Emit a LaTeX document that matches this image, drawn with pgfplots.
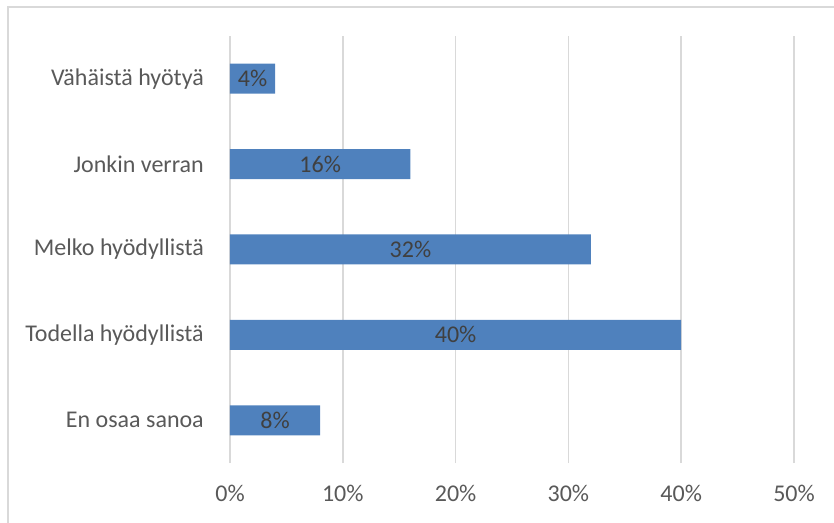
\documentclass[border=0pt]{standalone}
\usepackage{pgfplots}
\pgfplotsset{compat=1.18}
\usepackage{pgfplotstable}
\usepackage{fontspec}
\setmainfont{Carlito}
\definecolor{barblue}{RGB}{79,129,189}
\definecolor{gridgray}{RGB}{217,217,217}
\definecolor{labelgray}{RGB}{89,89,89}
\definecolor{valgray}{RGB}{64,64,64}
\pgfplotstableread{
y x
0 8
1 40
2 32
3 16
4 4
}\datatable
\begin{document}
\fontsize{24bp}{28bp}\selectfont
\begin{tikzpicture}
\path[use as bounding box] (-230bp,-60bp) rectangle (604bp,463bp);
\draw[gridgray, line width=1.2bp] (-222bp,-60bp) -- (-222bp,456bp) -- (604bp,456bp);
\begin{axis}[
  scale only axis,
  width=564bp, height=427bp,
  xbar, bar width=30bp,
  xmin=0, xmax=50,
  ymin=-0.5, ymax=4.5,
  axis line style={draw=none},
  xtick={0,10,20,30,40,50},
  xticklabels={0\%,10\%,20\%,30\%,40\%,50\%},
  ytick={0,1,2,3,4},
  yticklabels={En osaa sanoa,Todella hyödyllistä,Melko hyödyllistä,Jonkin verran,Vähäistä hyötyä},
  major tick length=0pt,
  xmajorgrids,
  grid style={gridgray, line width=1.5bp},
  tick label style={font=\fontsize{24bp}{28bp}\selectfont, text=labelgray},
  xticklabel style={yshift=-14bp},
  yticklabel style={xshift=-18bp},
  /pgf/number format/assume math mode=true,
  nodes near coords={\pgfmathprintnumber{\pgfplotspointmeta}\%},
  point meta=x,
  visualization depends on={\thisrow{x}*11.28/2 \as \half},
  every node near coord/.append style={anchor=center, xshift=-\half bp, text=valgray, font=\fontsize{24bp}{28bp}\selectfont},
]
\addplot[fill=barblue, draw=none] table[x=x, y=y] {\datatable};
\end{axis}
\end{tikzpicture}
\end{document}
